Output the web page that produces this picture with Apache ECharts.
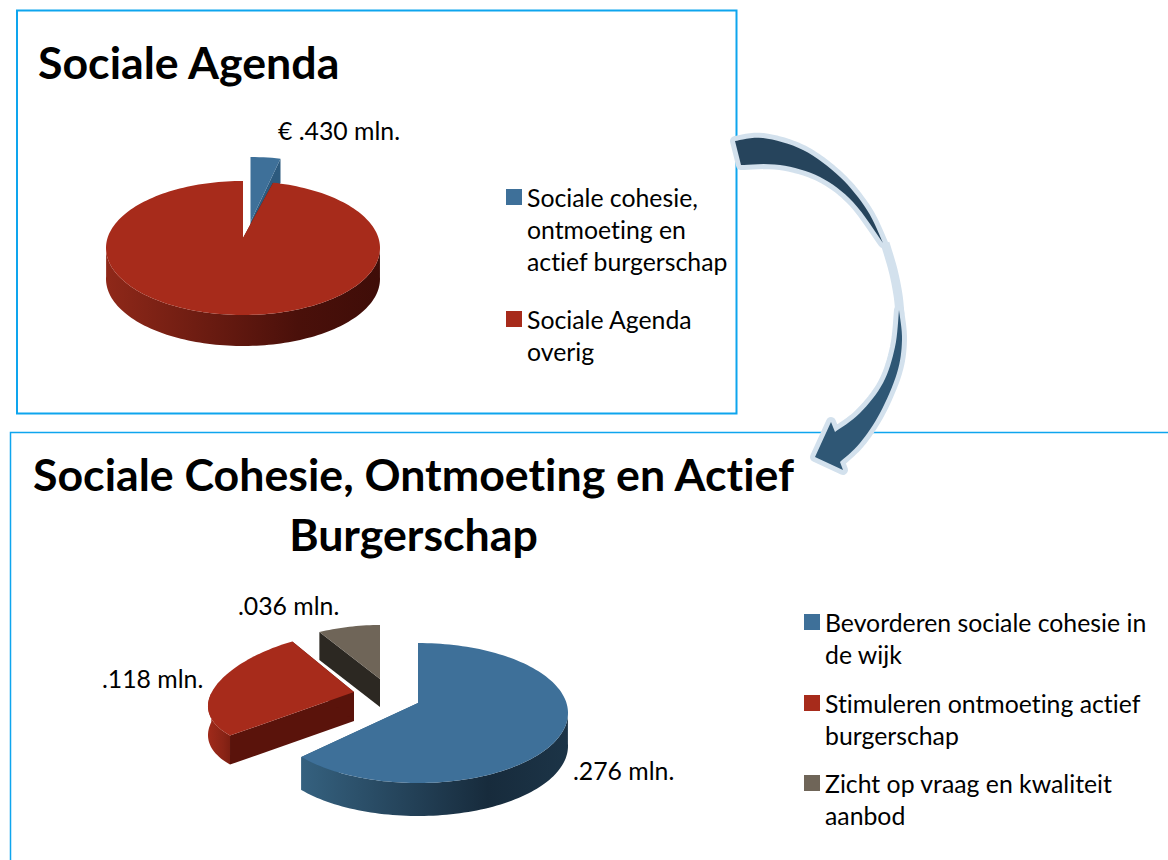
<!DOCTYPE html>
<html style="height: 100%;">
  <head>
    <meta charset="utf-8" />
    <script src="https://cdn.jsdelivr.net/npm/echarts/dist/echarts.min.js"></script>
    <style>
      text { font-variant-ligatures: none; }
    </style>
  </head>
  <body style="height: 100%; margin: 0; background: #fff;">
    <div id="container" style="width: 1168px; height: 860px;"></div>

    <script type="text/javascript">
      var FONT = "Lato";

      // top pie (mln euro, the "overig" value is estimated from the slice angle)
      var agendaNames = ["Sociale cohesie, ontmoeting en actief burgerschap", "Sociale Agenda overig"];
      var agendaValues = [0.43, 11.8];
      var agendaLegend = [
        ["Sociale cohesie,", "ontmoeting en", "actief burgerschap"],
        ["Sociale Agenda", "overig"],
      ];
      var agendaLabels = ["€ .430 mln."];

      // bottom pie
      var cohesieNames = ["Bevorderen sociale cohesie in de wijk", "Stimuleren ontmoeting actief burgerschap", "Zicht op vraag en kwaliteit aanbod"];
      var cohesieValues = [0.276, 0.118, 0.036];
      var cohesieLegend = [
        ["Bevorderen sociale cohesie in", "de wijk"],
        ["Stimuleren ontmoeting actief", "burgerschap"],
        ["Zicht op vraag en kwaliteit", "aanbod"],
      ];
      var cohesieLabels = [".276 mln.", ".118 mln.", ".036 mln."];

      var BLUE = { top: "#3e7099", wall: "#2c5a7e", arc: ["#35617f", "#172b3c", "#1c3447"] };
      var RED = { top: "#a72b1b", wall: "#5a130b", arc: ["#8f2819", "#4a100a", "#3f0d08"] };
      var RED_SMALL = { top: "#a72b1b", wall: "#5a130b", arc: ["#a02a1a", "#8a2416", "#7d1f12"] };
      var GREY = { top: "#6f6558", wall: "#2c2822", arc: ["#4a433a", "#3a342d", "#2c2822"] };

      // layout of each slice: apex, ellipse radii, offset of the ellipse from the apex, depth, perspective
      var agendaLayout = [
        { x: 250.5, y: 222, rx: 137, ry: 67, lift: 2, depth: 24, persp: 0 },
        { x: 243, y: 238, rx: 137, ry: 67, lift: 10, depth: 31, persp: 0 },
      ];
      var cohesieLayout = [
        { x: 418, y: 703, rx: 150, ry: 70, lift: 10, depth: 33, persp: 0 },
        { x: 354, y: 692, rx: 144, ry: 63, lift: 4, depth: 29, persp: 0.17 },
        { x: 380, y: 679, rx: 146, ry: 52, lift: -2, depth: 28, persp: 0.2 },
      ];

      function sliceAngles(values, i) {
        var total = values.reduce(function (a, b) { return a + b; }, 0);
        var sum = 0;
        for (var k = 0; k < i; k++) sum += values[k];
        return [(sum / total) * Math.PI * 2, ((sum + values[i]) / total) * Math.PI * 2];
      }

      function renderSlice(values, i, lay, colors) {
        var ang = sliceAngles(values, i);
        function pt(a, down) {
          var c = Math.cos(a);
          return [
            lay.x + lay.rx * Math.sin(a) * (1 - lay.persp * c),
            lay.y + lay.lift - lay.ry * c + (down || 0),
          ];
        }
        var apex = [lay.x, lay.y];
        var apexDown = [lay.x, lay.y + lay.depth];
        var steps = Math.max(4, Math.round((ang[1] - ang[0]) / 0.03));
        var arc = [];
        var arcFront = [];
        var arcFrontDown = [];
        for (var s = 0; s <= steps; s++) {
          var a = ang[0] + ((ang[1] - ang[0]) * s) / steps;
          arc.push(pt(a));
          if (Math.cos(a) < 0.05) {
            arcFront.push(pt(a));
            arcFrontDown.unshift(pt(a, lay.depth));
          }
        }
        var children = [];
        // radial walls first, the top face hides the ones turned away
        [ang[0], ang[1]].forEach(function (a) {
          children.push({
            type: "polygon",
            shape: { points: [apex, pt(a), pt(a, lay.depth), apexDown] },
            style: { fill: colors.wall },
          });
        });
        if (arcFront.length > 1) {
          children.push({
            type: "polygon",
            shape: { points: arcFront.concat(arcFrontDown) },
            style: {
              fill: new echarts.graphic.LinearGradient(0, 0, 1, 0, [
                { offset: 0, color: colors.arc[0] },
                { offset: 0.7, color: colors.arc[1] },
                { offset: 1, color: colors.arc[2] },
              ]),
            },
          });
        }
        children.push({
          type: "polygon",
          shape: { points: [apex].concat(arc) },
          style: { fill: colors.top },
        });
        return { type: "group", children: children };
      }

      function sliceSeries(name, values, i, lay, colors) {
        return {
          type: "custom",
          name: name,
          coordinateSystem: "none",
          silent: true,
          itemStyle: { color: colors.top },
          data: [[values[i]]],
          renderItem: function () {
            return renderSlice(values, i, lay, colors);
          },
        };
      }

      // one legend per entry, so the icon can sit on the first text line
      var LINE = 32;
      function legendItem(name, lines, left, firstLineY) {
        var blank = lines.map(function () { return ""; }).slice(1);
        var block = blank.concat(lines).join("\n");
        var count = lines.length * 2 - 1;
        return {
          data: [name],
          left: left,
          top: firstLineY - (count * LINE) / 2,
          orient: "vertical",
          padding: 0,
          icon: "rect",
          itemWidth: 16,
          itemHeight: 16,
          selectedMode: false,
          textStyle: { fontFamily: FONT, fontSize: 24.8, color: "#000", lineHeight: LINE },
          formatter: function () { return block; },
        };
      }

      function labelText(text, x, y) {
        return {
          type: "text",
          x: x,
          y: y,
          style: { text: text, fontFamily: FONT, fontSize: 24.8, fill: "#000", verticalAlign: "middle" },
        };
      }

      // smooth line through the given points, for the arrow outline
      function spline(p) {
        var pts = [];
        for (var i = 0; i < p.length - 1; i++) {
          var p0 = p[Math.max(i - 1, 0)];
          var p1 = p[i];
          var p2 = p[i + 1];
          var p3 = p[Math.min(i + 2, p.length - 1)];
          for (var k = 0; k < 8; k++) {
            var t = k / 8;
            pts.push([0, 1].map(function (d) {
              return 0.5 * (2 * p1[d] + (p2[d] - p0[d]) * t + (2 * p0[d] - 5 * p1[d] + 4 * p2[d] - p3[d]) * t * t + (3 * p1[d] - p0[d] - 3 * p2[d] + p3[d]) * t * t * t);
            }));
          }
        }
        pts.push(p[p.length - 1]);
        return pts;
      }

      var arrowTail = spline([[735, 141], [763, 138], [803, 150], [840, 177], [867, 210], [883, 243]])
        .concat(spline([[883, 243], [853, 202], [820, 177], [780, 165], [741, 165]]));
      var arrowHead = spline([[899, 310], [902, 340], [897, 373], [880, 413], [860, 443], [840, 462]])
        .concat([[843, 470], [815, 457], [831, 422], [835, 432]])
        .concat(spline([[835, 432], [860, 413], [883, 383], [895, 347], [899, 310]]));
      var arrowBand = spline([[885, 243], [893, 270], [898, 295], [900, 315]]);
      var ARROW_EDGE = "#d3e1ed";

      var option = {
        animation: false,
        title: [
          {
            text: "Sociale Agenda",
            left: 38,
            top: 39,
            padding: 0,
            textStyle: { fontFamily: FONT, fontSize: 44.7, fontWeight: "bold", color: "#000" },
          },
          {
            text: "Sociale Cohesie, Ontmoeting en Actief\nBurgerschap",
            left: 413.5,
            top: 444,
            padding: 0,
            textAlign: "center",
            textStyle: { fontFamily: FONT, fontSize: 44.7, fontWeight: "bold", color: "#000", lineHeight: 60 },
          },
        ],
        legend: [
          legendItem(agendaNames[0], agendaLegend[0], 506, 197),
          legendItem(agendaNames[1], agendaLegend[1], 506, 319),
          legendItem(cohesieNames[0], cohesieLegend[0], 804, 622),
          legendItem(cohesieNames[1], cohesieLegend[1], 804, 703),
          legendItem(cohesieNames[2], cohesieLegend[2], 804, 783),
        ],
        graphic: [
          { type: "rect", z: -1, shape: { x: 17, y: 10.5, width: 719.5, height: 403 }, style: { fill: "none", stroke: "#0ea5ee", lineWidth: 2 } },
          { type: "polyline", z: -1, shape: { points: [[10.5, 860], [10.5, 432.5], [1168, 432.5]] }, style: { fill: "none", stroke: "#0ea5ee", lineWidth: 1.5 } },
          labelText(agendaLabels[0], 278, 130),
          labelText(cohesieLabels[0], 573, 770),
          labelText(cohesieLabels[1], 102, 678),
          labelText(cohesieLabels[2], 238, 605),
          // curved arrow between the two panels: light edge below, dark fill on top
          { type: "polyline", z: 5, shape: { points: arrowBand }, style: { fill: "none", stroke: ARROW_EDGE, lineWidth: 9 } },
          { type: "polygon", z: 5, shape: { points: arrowTail }, style: { fill: ARROW_EDGE, stroke: ARROW_EDGE, lineWidth: 10, lineJoin: "round" } },
          { type: "polygon", z: 5, shape: { points: arrowHead }, style: { fill: ARROW_EDGE, stroke: ARROW_EDGE, lineWidth: 10, lineJoin: "round" } },
          { type: "polygon", z: 6, shape: { points: arrowTail }, style: { fill: "#26445c" } },
          { type: "polygon", z: 6, shape: { points: arrowHead }, style: { fill: "#2f5775" } },
        ],
        series: [
          sliceSeries(agendaNames[0], agendaValues, 0, agendaLayout[0], BLUE),
          sliceSeries(agendaNames[1], agendaValues, 1, agendaLayout[1], RED),
          sliceSeries(cohesieNames[2], cohesieValues, 2, cohesieLayout[2], GREY),
          sliceSeries(cohesieNames[1], cohesieValues, 1, cohesieLayout[1], RED_SMALL),
          sliceSeries(cohesieNames[0], cohesieValues, 0, cohesieLayout[0], BLUE),
        ],
      };

      var myChart = echarts.init(document.getElementById("container"), null, { renderer: "svg" });
      myChart.setOption(option);
    </script>
  </body>
</html>
